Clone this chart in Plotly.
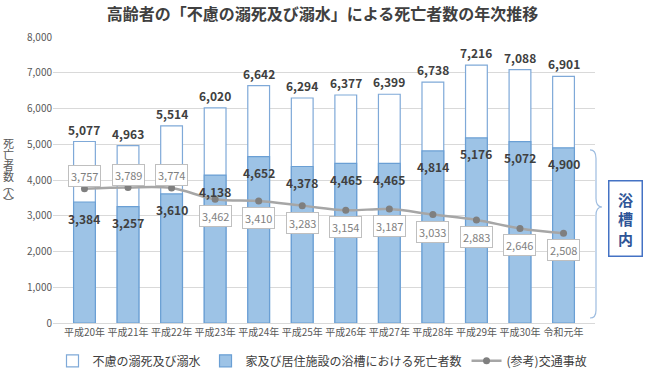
import plotly.graph_objects as go

years = ["平成20年", "平成21年", "平成22年", "平成23年", "平成24年", "平成25年",
         "平成26年", "平成27年", "平成28年", "平成29年", "平成30年", "令和元年"]
drowning_total = [5077, 4963, 5514, 6020, 6642, 6294, 6377, 6399, 6738, 7216, 7088, 6901]
bath_deaths = [3384, 3257, 3610, 4138, 4652, 4378, 4465, 4465, 4814, 5176, 5072, 4900]
traffic = [3757, 3789, 3774, 3462, 3410, 3283, 3154, 3187, 3033, 2883, 2646, 2508]
y_title_chars = ["死", "亡", "者", "数", "︵", "人", "︶"]

FONT = "Noto Sans CJK JP"
DARK = "#404040"

fig = go.Figure()
fig.add_trace(go.Bar(
    x=years, y=drowning_total, name="不慮の溺死及び溺水",
    marker=dict(color="white", line=dict(color="#7FA9D8", width=1.2)),
))
fig.add_trace(go.Bar(
    x=years, y=bath_deaths, name="家及び居住施設の浴槽における死亡者数",
    marker=dict(color="#9DC3E6", line=dict(color="#6A9FD4", width=1.2)),
))
fig.add_trace(go.Scatter(
    x=years, y=traffic, name="(参考)交通事故", mode="lines+markers",
    line=dict(color="#A6A6A6", width=2.5, shape="spline"),
    marker=dict(color="#7F7F7F", size=7),
))

ann = []
for x, v in zip(years, drowning_total):
    ann.append(dict(x=x, y=v, text=f"{v:,}", showarrow=False, yanchor="bottom", yshift=2,
                    font=dict(family=FONT, size=12, color=DARK, weight="bold")))
for x, v in zip(years, bath_deaths):
    ann.append(dict(x=x, y=v, text=f"{v:,}", showarrow=False, yanchor="middle", yshift=-16,
                    font=dict(family=FONT, size=12, color=DARK, weight="bold")))
for i, (x, v) in enumerate(zip(years, traffic)):
    ys = 13 if i < 3 else -17
    ann.append(dict(x=x, y=v, text=f"{v:,}", showarrow=False, yanchor="middle", yshift=ys,
                    bordercolor="#BFBFBF", borderwidth=1, borderpad=2, bgcolor="white",
                    font=dict(family=FONT, size=11, color="#7F7F7F")))

ann.append(dict(xref="paper", yref="y", x=1, y=2910, xanchor="left", xshift=13,
                text="浴<br>槽<br>内", showarrow=False, width=32, height=74, borderpad=0,
                bordercolor="#4472C4", borderwidth=1.5, bgcolor="white",
                font=dict(family=FONT, size=15, color="#2F5597", weight="bold")))
# vertical axis title, one glyph per line, tightly stacked like the reference
offsets = [37, 26, 15, 4, -5, -13, -22]
for ch, off in zip(y_title_chars, offsets):
    ann.append(dict(xref="paper", yref="y", x=0, y=4000, xanchor="center", yanchor="middle",
                    xshift=-45, yshift=off, text=ch, showarrow=False,
                    font=dict(family=FONT, size=11, color="#595959")))

shapes = [dict(type="path", xref="paper", yref="y", xsizemode="pixel", xanchor=1,
               path="M -5,4840 Q 1,4840 1,4600 L 1,3480 Q 1,3245 7,3245 Q 1,3245 1,3010 L 1,360 Q 1,140 -5,140",
               line=dict(color="#9DBCE0", width=1.2))]

fig.update_layout(
    width=645, height=372,
    margin=dict(l=53, r=50, t=37, b=49, autoexpand=False),
    paper_bgcolor="white", plot_bgcolor="white",
    barmode="overlay", bargap=0.5,
    font=dict(family=FONT, color="#595959"),
    title=dict(text="高齢者の「不慮の溺死及び溺水」による死亡者数の年次推移",
               x=0.5, xanchor="center", y=0.96, yanchor="middle",
               font=dict(family=FONT, size=16, color=DARK, weight="bold")),
    xaxis=dict(tickfont=dict(size=10, color="#595959"), showline=True,
               linecolor="#D9D9D9", ticks="", automargin=False),
    yaxis=dict(range=[0, 8000], dtick=1000, tickformat=",", gridcolor="#D9D9D9",
               tickfont=dict(size=10, color="#595959"), zeroline=False, automargin=False),
    legend=dict(orientation="h", x=0.5, xanchor="center", xref="container",
                y=0.03, yref="container", yanchor="middle",
                font=dict(size=12, color="#404040"), traceorder="normal"),
    annotations=ann, shapes=shapes, showlegend=True,
)

fig.write_html("out.html", config={"displayModeBar": False},
               post_script="document.body.style.margin='0';")
